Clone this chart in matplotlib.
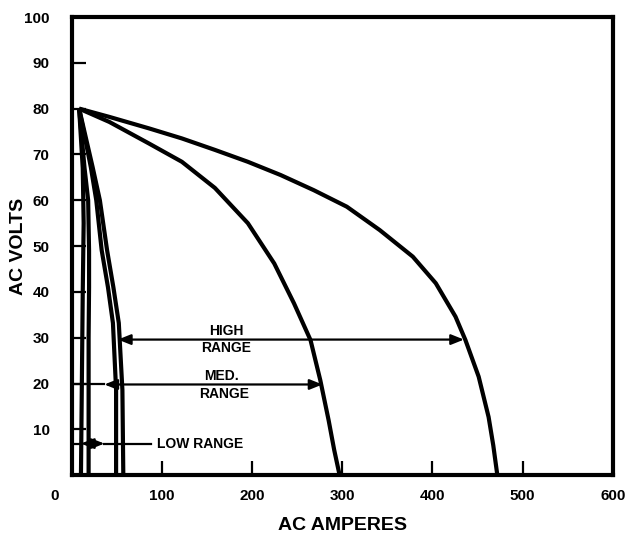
import matplotlib
matplotlib.use("Agg")
import matplotlib.pyplot as plt
import matplotlib.transforms as mtransforms

plt.rcParams['font.family'] = ['Liberation Sans', 'DejaVu Sans']

# ---- data (AC amperes vs AC volts) ----
large_amps = [8, 41.5, 85.4, 122, 158.6, 195.2, 231.7, 268.4, 305, 341.5, 378.2,
              403.7, 425.6, 436.6, 451.3, 462.3, 467.5, 472]
large_volts = [80, 78.2, 75.7, 73.5, 71.0, 68.4, 65.5, 62.2, 58.6, 53.5, 47.7,
               41.9, 34.6, 29.5, 21.5, 12.7, 6.5, 0]

med_amps = [8, 41.5, 85.4, 122, 158.6, 195.2, 224.5, 246.4, 264.7, 275.6, 284.8, 291, 297]
med_volts = [80, 77.1, 72.4, 68.4, 62.7, 55.0, 46.2, 37.5, 29.5, 20.7, 12.0, 5.5, 0]

low4_amps = [8, 23, 31, 39, 46, 52, 56, 57]
low4_volts = [80, 67.2, 60, 49.1, 41, 33.2, 18.6, 0]

low3_amps = [8, 21, 27, 33, 40, 45.5, 49, 49]
low3_volts = [80, 67.2, 60, 49.1, 41, 33.2, 18.6, 0]

low2_amps = [8, 14, 18, 19, 19, 18.5, 18.5]
low2_volts = [80, 67, 60, 49, 41, 30, 0]

low1_amps = [8, 12, 13, 12, 11, 10]
low1_volts = [80, 67, 55, 40, 20, 0]

x_ticks = [0, 100, 200, 300, 400, 500, 600]
y_ticks = [10, 20, 30, 40, 50, 60, 70, 80, 90, 100]

high_range = (51, 435, 29.6)      # from amps, to amps, at volts
med_range = (36, 278, 19.8)
low_range = (10, 36, 6.9)

fig = plt.figure(figsize=(6.31, 5.40), dpi=100)
ax = fig.add_axes([0.114, 0.120, 0.857, 0.8485])

curve_kw = dict(color='black', lw=3.0, solid_capstyle='butt', solid_joinstyle='round')
for xs, ys in [(large_amps, large_volts), (med_amps, med_volts),
               (low4_amps, low4_volts), (low3_amps, low3_volts),
               (low2_amps, low2_volts), (low1_amps, low1_volts)]:
    ax.plot(xs, ys, **curve_kw)

arrow_style = '<|-|>,head_length=0.55,head_width=0.22'
def rng(a0, a1, v):
    ax.annotate('', xy=(a1, v), xytext=(a0, v),
                arrowprops=dict(arrowstyle=arrow_style, lw=1.6, color='black',
                                shrinkA=0, shrinkB=0, mutation_scale=14))

rng(*high_range)
rng(*med_range)
ax.plot([0, med_range[0]], [med_range[2]] * 2, color='black', lw=1.6)
rng(*low_range)
ax.plot([0, low_range[0]], [low_range[2]] * 2, color='black', lw=1.6)
ax.plot([low_range[1], 88], [low_range[2]] * 2, color='black', lw=1.6)

tkw = dict(fontsize=10, fontweight='bold', ha='center', va='center')
ax.text(171.5, 31.4, 'HIGH', **tkw)
ax.text(171.5, 27.7, 'RANGE', **tkw)
ax.text(166, 21.6, 'MED.', **tkw)
ax.text(169, 17.8, 'RANGE', **tkw)
ax.text(94.7, 6.9, 'LOW RANGE', fontsize=10, fontweight='bold', ha='left', va='center')

ax.set_xlim(0, 600)
ax.set_ylim(0, 100)
ax.set_xticks(x_ticks)
ax.set_yticks(y_ticks)
ax.set_xticklabels([str(v) for v in x_ticks], fontsize=11, fontweight='bold')
ax.set_yticklabels([str(v) for v in y_ticks], fontsize=11, fontweight='bold')
ax.tick_params(axis='both', direction='in', length=10, width=1.6)
ax.tick_params(axis='x', pad=10)
ax.tick_params(axis='y', pad=16)

# move the "0" label left of the axis corner
lbl0 = ax.get_xticklabels()[0]
lbl0.set_transform(lbl0.get_transform() + mtransforms.ScaledTranslation(-0.17, 0, fig.dpi_scale_trans))
ax.xaxis.get_major_ticks()[0].tick1line.set_visible(False)
ax.xaxis.get_major_ticks()[-1].tick1line.set_visible(False)
ax.yaxis.get_major_ticks()[-1].tick1line.set_visible(False)

for s in ax.spines.values():
    s.set_linewidth(3.0)

ax.set_xlabel('AC AMPERES', fontsize=14, fontweight='bold', labelpad=10)
ax.set_ylabel('AC VOLTS', fontsize=14, fontweight='bold')
ax.yaxis.set_label_coords(-0.084, 0.5)

fig.savefig('out.png', dpi=100)
